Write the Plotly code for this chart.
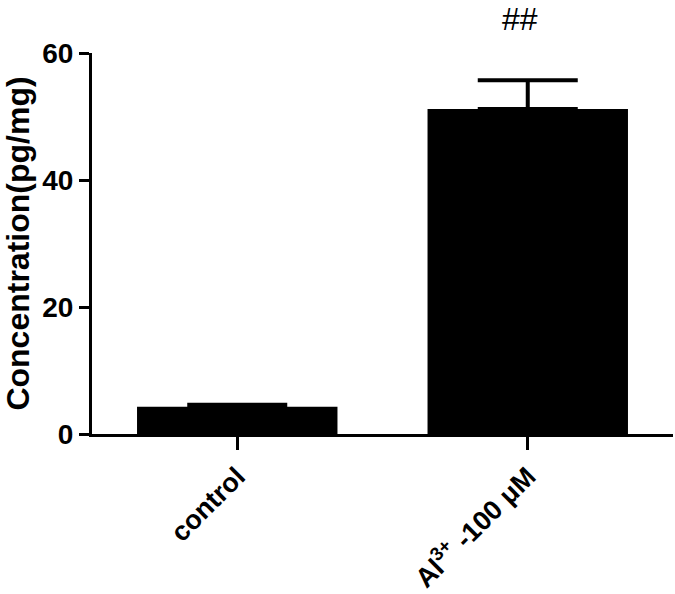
import plotly.graph_objects as go

# data
groups = ["control", "Al<sup>3+</sup> -100 μM"]
conc = [4.3, 51.2]
sem = [0.3, 4.5]
y_ticks = [0, 20, 40, 60]
sig_mark = "##"

font_name = "Liberation Sans, Arial, sans-serif"

fig = go.Figure()
fig.add_bar(
    x=list(range(len(groups))), y=conc,
    width=0.69,
    marker=dict(color="black", line=dict(width=0)),
    error_y=dict(type="data", array=sem, arrayminus=[0] * len(sem), symmetric=False,
                 color="black", thickness=4, width=50),
)

# significance mark above the Al bar, pinned to the top of the page
fig.add_annotation(x=1, xref="x", y=1.139, yref="paper", yanchor="top",
                   text=sig_mark, showarrow=False, xshift=-8, borderpad=0,
                   font=dict(family=font_name, size=32, color="black"))

fig.update_layout(
    width=675, height=594,
    margin=dict(l=92, r=2, t=53, b=160),
    plot_bgcolor="white", paper_bgcolor="white",
    showlegend=False,
    font=dict(family=font_name, color="black"),
)
fig.update_xaxes(
    range=[-0.5, 1.5],
    tickmode="array", tickvals=list(range(len(groups))), ticktext=groups,
    tickangle=-45,
    tickfont=dict(size=27, weight="bold"),
    showline=True, linecolor="black", linewidth=3,
    ticks="outside", ticklen=13, tickwidth=3, tickcolor="black",
    showgrid=False, zeroline=False,
)
fig.update_yaxes(
    range=[0, 60], tickvals=y_ticks,
    tickfont=dict(size=28, weight="bold"),
    title=dict(text="Concentration(pg/mg)", font=dict(size=32, weight="bold"), standoff=12),
    showline=True, linecolor="black", linewidth=3,
    ticks="outside", ticklen=10, tickwidth=3, tickcolor="black",
    showgrid=False, zeroline=False,
)

# drop the default 8px body margin so the figure fills the window
fig.write_html("out.html", config={"displayModeBar": False},
               post_script="document.body.style.margin = '0';")
